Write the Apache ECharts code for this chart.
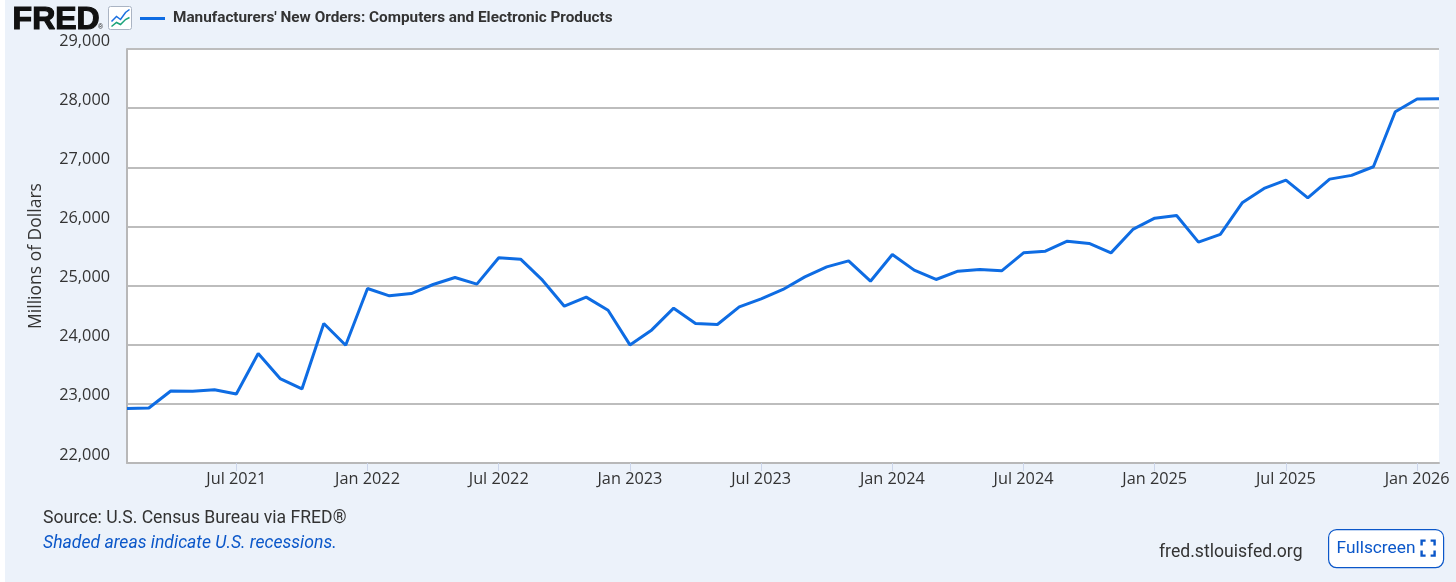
<!DOCTYPE html>
<html>
<head>
<meta charset="utf-8">
<script src="https://cdn.jsdelivr.net/npm/echarts@6/dist/echarts.min.js"></script>
<style>
  html, body { margin: 0; padding: 0; background: #ffffff; }
  #chart { width: 1456px; height: 582px; }
</style>
</head>
<body>
<div id="chart"></div>
<script>
// monthly series, Feb 2021 .. Feb 2026 (millions of dollars)
const startYear = 2021;
const startMonth = 2;
const orders = [
  22920, 22930, 23218, 23213, 23240, 23167, 23851, 23428, 23252, 24359, 23991,
  24951, 24826, 24865, 25018, 25137, 25024, 25469, 25447, 25091, 24651, 24804, 24584,
  23997, 24250, 24618, 24359, 24342, 24640, 24775, 24934, 25147, 25316, 25418, 25074,
  25526, 25261, 25103, 25244, 25272, 25249, 25553, 25582, 25751, 25712, 25553, 25949,
  26140, 26186, 25734, 25865, 26399, 26643, 26783, 26484, 26800, 26863, 27009, 27939,
  28154, 28160
];
const monthNames = ['Jan', 'Feb', 'Mar', 'Apr', 'May', 'Jun', 'Jul', 'Aug', 'Sep', 'Oct', 'Nov', 'Dec'];
const yTicks = { min: 22000, max: 29000, step: 1000 };

const months = orders.map(function (v, i) {
  const m = (startMonth - 1 + i) % 12;
  const y = startYear + Math.floor((startMonth - 1 + i) / 12);
  return monthNames[m] + ' ' + y;
});

const showTick = function (idx, label) {
  return label.indexOf('Jan') === 0 || label.indexOf('Jul') === 0;
};

const blue = '#0e6ce3';
const linkBlue = '#0b57c9';
const chart = echarts.init(document.getElementById('chart'));

const option = {
  backgroundColor: '#ecf2fa',
  animation: false,
  legend: {
    left: 140,
    top: 11,
    padding: 0,
    icon: 'rect',
    itemWidth: 25,
    itemHeight: 3,
    textStyle: {
      fontFamily: 'Roboto',
      fontWeight: 'bold',
      fontSize: 15.3,
      color: '#333',
      padding: [0, 0, 0, 3]
    },
    data: ["Manufacturers' New Orders: Computers and Electronic Products"]
  },
  grid: { left: 127, right: 17, top: 49, bottom: 119, backgroundColor: '#fff', show: true, borderWidth: 0 },
  xAxis: {
    type: 'category',
    data: months,
    boundaryGap: false,
    axisLine: { lineStyle: { color: '#b8b8b8', width: 2 } },
    axisTick: { interval: showTick, length: 8, lineStyle: { color: '#ccd6eb' } },
    axisLabel: {
      interval: showTick,
      margin: 8,
      fontFamily: 'Open Sans',
      fontSize: 16.3,
      color: '#333'
    },
    splitLine: { show: false }
  },
  yAxis: {
    type: 'value',
    min: yTicks.min,
    max: yTicks.max,
    interval: yTicks.step,
    name: 'Millions of Dollars',
    nameLocation: 'middle',
    nameGap: 82,
    nameTextStyle: { fontFamily: 'Open Sans', fontSize: 17.5, color: '#333' },
    axisLine: { show: true, lineStyle: { color: '#b8b8b8', width: 2 } },
    axisTick: { show: false },
    axisLabel: {
      margin: 17,
      verticalAlign: 'bottom',
      fontFamily: 'Open Sans',
      fontSize: 16.3,
      color: '#333',
      formatter: function (v) { return v.toLocaleString('en-US'); }
    },
    splitLine: { lineStyle: { color: '#bdbdbd', width: 2 } }
  },
  series: [{
    name: "Manufacturers' New Orders: Computers and Electronic Products",
    type: 'line',
    data: orders,
    showSymbol: false,
    color: blue,
    lineStyle: { color: blue, width: 3 }
  }],
  graphic: [
    { type: 'rect', left: 0, top: 0, shape: { width: 5, height: 582 }, style: { fill: '#fff' }, silent: true },
    {
      type: 'text', left: 12, top: 4,
      style: { text: 'FRED', fontFamily: 'Liberation Sans', fontWeight: 900, fontSize: 32, fill: '#111', stroke: '#111', lineWidth: 1.2 }
    },
    {
      type: 'text', left: 98, top: 24,
      style: { text: '®', fontFamily: 'Liberation Sans', fontSize: 7, fill: '#111' }
    },
    {
      type: 'group', left: 108, top: 6,
      children: [
        { type: 'rect', shape: { x: 0, y: 0, width: 23, height: 23, r: 2 }, style: { fill: '#fff', stroke: '#aab4c3', lineWidth: 1 } },
        { type: 'polyline', shape: { points: [[3, 15], [8, 10], [12, 13], [17, 6], [21, 3]] }, style: { stroke: '#1a6fe0', lineWidth: 1.5, fill: null } },
        { type: 'polyline', shape: { points: [[3, 20], [8, 16], [12, 18], [17, 13], [21, 11]] }, style: { stroke: '#1aa37a', lineWidth: 1.5, fill: null } }
      ]
    },
    {
      type: 'text', left: 43, top: 510,
      style: { text: 'Source: U.S. Census Bureau via FRED®', fontFamily: 'Roboto', fontSize: 17.6, fill: '#333' }
    },
    {
      type: 'text', left: 43, top: 535,
      style: { text: 'Shaded areas indicate U.S. recessions.', fontFamily: 'Roboto', fontStyle: 'italic', fontSize: 17.6, fill: linkBlue }
    },
    {
      type: 'text', left: 1159, top: 544,
      style: { text: 'fred.stlouisfed.org', fontFamily: 'Roboto', fontSize: 17.6, fill: '#333' }
    },
    {
      type: 'group', left: 1328, top: 529,
      children: [
        { type: 'rect', shape: { x: 0, y: 0, width: 115, height: 38, r: 8 }, style: { fill: '#fff', stroke: linkBlue, lineWidth: 1.2 } },
        { type: 'text', x: 8, y: 11, style: { text: 'Fullscreen', fontFamily: 'Roboto', fontSize: 17.3, fill: linkBlue } },
        { type: 'polyline', shape: { points: [[93, 16], [93, 11], [97, 11]] }, style: { stroke: linkBlue, lineWidth: 2.4, fill: null } },
        { type: 'polyline', shape: { points: [[102, 11], [106, 11], [106, 16]] }, style: { stroke: linkBlue, lineWidth: 2.4, fill: null } },
        { type: 'polyline', shape: { points: [[93, 21], [93, 26], [97, 26]] }, style: { stroke: linkBlue, lineWidth: 2.4, fill: null } },
        { type: 'polyline', shape: { points: [[102, 26], [106, 26], [106, 21]] }, style: { stroke: linkBlue, lineWidth: 2.4, fill: null } }
      ]
    }
  ]
};

option && chart.setOption(option);
</script>
</body>
</html>
